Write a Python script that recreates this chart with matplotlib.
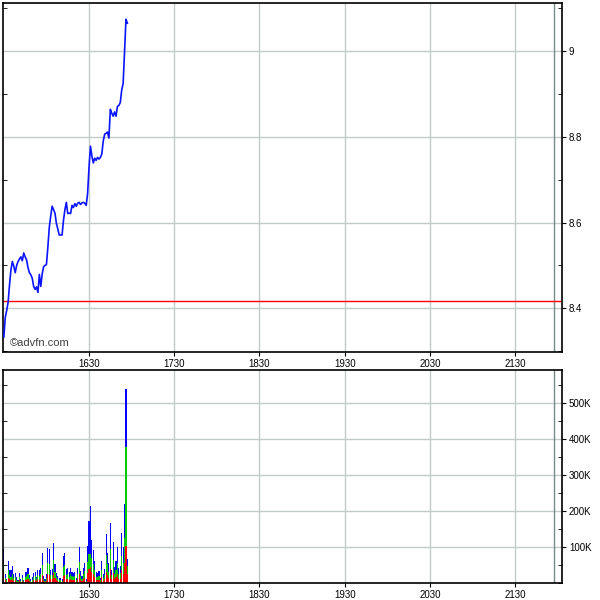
import numpy as np
import matplotlib
matplotlib.use("Agg")
from matplotlib import pyplot as plt
from matplotlib.ticker import FixedLocator, MultipleLocator, FuncFormatter

plt.rcParams['font.family'] = ['Liberation Sans', 'DejaVu Sans']

# one value per minute, starting 15:30
start_minute = 15 * 60 + 30
price = [8.333, 8.379, 8.395, 8.414, 8.455, 8.490, 8.509, 8.498, 8.483, 8.500,
         8.509, 8.515, 8.520, 8.511, 8.529, 8.520, 8.513, 8.495, 8.483, 8.478,
         8.470, 8.451, 8.444, 8.450, 8.437, 8.479, 8.451, 8.480, 8.497, 8.500,
         8.502, 8.543, 8.589, 8.615, 8.638, 8.630, 8.622, 8.598, 8.585, 8.571,
         8.571, 8.571, 8.605, 8.630, 8.647, 8.621, 8.622, 8.621, 8.640, 8.635,
         8.644, 8.638, 8.645, 8.647, 8.642, 8.646, 8.647, 8.645, 8.640, 8.668,
         8.730, 8.778, 8.755, 8.739, 8.750, 8.745, 8.752, 8.748, 8.752, 8.760,
         8.790, 8.806, 8.808, 8.811, 8.797, 8.864, 8.855, 8.848, 8.858, 8.848,
         8.871, 8.873, 8.880, 8.909, 8.924, 8.998, 9.074, 9.065]

# volumes in thousands
vol_total = [94, 25, 12, 61, 36, 36, 47, 25, 29, 16, 8, 27, 10, 22, 8, 30, 31, 42, 22, 12,
             16, 27, 31, 18, 36, 36, 42, 84, 20, 11, 25, 97, 94, 36, 39, 111, 52, 27, 20, 15,
             13, 10, 75, 84, 39, 43, 30, 43, 31, 27, 31, 15, 43, 101, 33, 20, 43, 55, 11, 103,
             173, 214, 121, 92, 61, 31, 27, 34, 13, 61, 24, 38, 136, 84, 55, 166, 36, 113, 45, 62,
             99, 41, 47, 138, 101, 221, 539, 67]
vol_red = [30, 8, 4, 15, 10, 8, 12, 6, 8, 4, 3, 8, 3, 6, 3, 8, 9, 12, 6, 3,
           4, 8, 9, 5, 10, 9, 11, 22, 6, 3, 7, 25, 22, 10, 10, 28, 14, 8, 6, 4,
           4, 3, 20, 22, 10, 12, 8, 12, 9, 8, 9, 4, 12, 26, 9, 6, 12, 15, 3, 28,
           40, 45, 32, 24, 16, 8, 8, 9, 4, 16, 6, 10, 32, 22, 14, 40, 10, 28, 12, 16,
           25, 11, 12, 35, 25, 55, 104, 26]
vol_green = [25, 7, 4, 20, 12, 10, 14, 8, 9, 5, 2, 9, 3, 7, 2, 10, 10, 13, 7, 4,
             5, 8, 10, 5, 11, 11, 13, 28, 6, 4, 8, 30, 30, 11, 12, 35, 16, 8, 6, 5,
             4, 3, 24, 28, 12, 13, 9, 14, 10, 8, 10, 5, 14, 32, 10, 6, 14, 18, 4, 30,
             40, 35, 38, 28, 20, 10, 9, 11, 4, 20, 8, 12, 45, 30, 18, 55, 12, 36, 14, 20,
             32, 14, 15, 40, 32, 70, 276, 20]

prev_close = 8.418
close_minute = 21 * 60 + 57.5
tick_labels = ["1630", "1730", "1830", "1930", "2030", "2130"]
price_ticks = [8.4, 8.6, 8.8, 9.0]
price_labels = ["8.4", "8.6", "8.8", "9"]
vol_ticks = [100, 200, 300, 400, 500]

minutes = start_minute + np.arange(len(price))
tick_pos = [int(t[:2]) * 60 + int(t[2:]) for t in tick_labels]
vol_total = np.array(vol_total) * 1000.0
vol_red = np.array(vol_red) * 1000.0
vol_green = np.array(vol_green) * 1000.0
vol_blue = vol_total - vol_red - vol_green

grid_col = "#c2caca"
fs = 7

fig = plt.figure(figsize=(6, 6), dpi=100)
ax1 = fig.add_axes([0.005, 0.4133, 0.9317, 0.5817])
ax2 = fig.add_axes([0.005, 0.0283, 0.9317, 0.355])

xlim = (start_minute - 0.6, start_minute + 393.1)

ax1.plot(minutes, price, color="#0a14ff", lw=1.2, zorder=3)
ax1.axhline(prev_close, color="#ff0000", lw=1.0, zorder=2)
ax1.set_xlim(*xlim)
ax1.set_ylim(8.298, 9.112)
ax1.yaxis.set_major_locator(FixedLocator(price_ticks))
ax1.set_yticklabels(price_labels)
ax1.yaxis.set_minor_locator(MultipleLocator(0.1))
ax1.text(0.012, 0.012, "\u00a9advfn.com", transform=ax1.transAxes, fontsize=8,
         color="#404040", ha="left", va="bottom")

bw = 0.8
ax2.bar(minutes, vol_red, width=bw, color="#ff0000", lw=0, antialiased=False)
ax2.bar(minutes, vol_green, width=bw, bottom=vol_red, color="#00cc00", lw=0, antialiased=False)
ax2.bar(minutes, vol_blue, width=bw, bottom=vol_red + vol_green, color="#0000ff", lw=0,
        antialiased=False)
ax2.set_xlim(*xlim)
ax2.set_ylim(0, 593000)
ax2.yaxis.set_major_locator(FixedLocator([v * 1000 for v in vol_ticks]))
ax2.yaxis.set_major_formatter(FuncFormatter(lambda v, p: "%dK" % round(v / 1000)))
ax2.yaxis.set_minor_locator(MultipleLocator(50000))

for ax in (ax1, ax2):
    ax.set_xticks(tick_pos)
    ax.set_xticklabels(tick_labels)
    ax.grid(True, which="major", color=grid_col, lw=1.0, zorder=0)
    ax.set_axisbelow(True)
    ax.axvline(close_minute, color="#7a8a8a", lw=1.0, zorder=1)
    ax.yaxis.tick_right()
    ax.tick_params(axis="y", which="major", right=True, left=False, direction="out",
                   length=3, labelsize=fs, pad=2)
    ax.tick_params(axis="y", which="minor", right=True, left=True, direction="in", length=3)
    ax.tick_params(axis="x", which="major", direction="out", length=3, labelsize=fs, pad=2)
    for s in ax.spines.values():
        s.set_linewidth(1.2)
        s.set_color("black")

fig.savefig("out.png", dpi=100)
